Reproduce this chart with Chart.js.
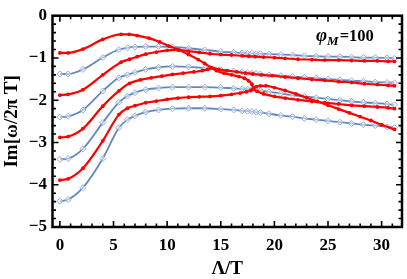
<!DOCTYPE html>
<html>
<head>
<meta charset="utf-8">
<script src="https://cdn.jsdelivr.net/npm/chart.js@4.4.0/dist/chart.umd.min.js"></script>
<style>
  html, body { margin: 0; padding: 0; background: #fff; }
</style>
</head>
<body>
<canvas id="chart" width="407" height="279"></canvas>
<script>
// tick labels
const xTicks = [0, 5, 10, 15, 20, 25, 30];
const yTicks = [0, -1, -2, -3, -4, -5];

// red modes
const red1X = [0,0.77,2.15,4.0,5.7,6.46,7.2,8.3,9.3,10.2,11.1,12.0,12.9,13.5,14.1,14.6,15.3,16.0,16.7,17.2,17.6,17.9,18.05,18.4,19.0,20.0,21.0,22.2,23.5,24.7,26.0,27.2,28.4,29.6,30.6,31.2];
const red1Y = [-0.88,-0.88,-0.79,-0.56,-0.44,-0.44,-0.47,-0.53,-0.62,-0.72,-0.81,-0.92,-1.04,-1.13,-1.23,-1.30,-1.36,-1.40,-1.44,-1.48,-1.54,-1.62,-1.72,-1.79,-1.85,-1.91,-1.95,-1.99,-2.03,-2.06,-2.09,-2.12,-2.14,-2.16,-2.18,-2.20];
const red2X = [0,0.77,2.15,4.0,5.7,6.5,7.2,8.0,9.0,10.0,11.0,12.0,13.0,14.0,15.0,16.0,17.0,17.6,18.2,19.0,20.0,21.0,22.2,23.5,24.7,26.0,27.2,28.4,29.6,30.6,31.2];
const red2Y = [-1.88,-1.86,-1.75,-1.40,-1.10,-1.03,-0.97,-0.91,-0.86,-0.82,-0.81,-0.84,-0.87,-0.90,-0.92,-0.93,-0.95,-0.96,-0.97,-0.98,-0.99,-1.01,-1.03,-1.04,-1.05,-1.05,-1.06,-1.07,-1.07,-1.08,-1.08];
const red3X = [0,0.77,2.15,4.0,5.5,6.5,7.5,8.5,9.5,10.5,11.5,12.5,13.3,13.8,14.1,14.8,15.6,16.5,17.3,18.0,18.8,19.8,21.0,22.2,23.5,24.7,26.0,27.2,28.4,29.6,30.6,31.2];
const red3Y = [-2.88,-2.86,-2.67,-2.14,-1.78,-1.60,-1.52,-1.47,-1.43,-1.39,-1.36,-1.33,-1.30,-1.27,-1.23,-1.27,-1.30,-1.33,-1.36,-1.38,-1.40,-1.42,-1.45,-1.48,-1.51,-1.53,-1.56,-1.58,-1.61,-1.63,-1.65,-1.66];
const red4X = [0,0.77,2.15,4.0,5.5,6.3,7.0,8.0,9.0,10.0,11.0,12.0,13.0,14.0,15.0,16.0,16.8,17.4,17.8,18.05,18.3,18.7,19.2,20.0,21.0,22.0,23.0,24.0,25.0,26.0,27.0,28.0,29.0,30.0,31.2];
const red4Y = [-3.89,-3.86,-3.61,-2.96,-2.34,-2.19,-2.13,-2.06,-2.02,-1.98,-1.95,-1.93,-1.92,-1.91,-1.89,-1.86,-1.83,-1.80,-1.77,-1.72,-1.68,-1.66,-1.66,-1.70,-1.77,-1.85,-1.94,-2.03,-2.12,-2.21,-2.30,-2.39,-2.48,-2.58,-2.69];

// blue modes share one grid
const blueX = [0,0.77,2.15,4.0,5.5,6.3,7.0,8.0,9.2,10.5,12.0,13.5,15.0,16.2,17.0,17.5,17.9,18.3,18.7,19.5,20.6,21.7,22.8,23.9,25.0,26.1,27.2,28.3,29.4,30.5,31.2];
const blue1Y = [-1.38,-1.38,-1.27,-0.99,-0.80,-0.76,-0.74,-0.73,-0.73,-0.74,-0.77,-0.81,-0.85,-0.87,-0.88,-0.89,-0.89,-0.90,-0.90,-0.91,-0.92,-0.93,-0.95,-0.96,-0.97,-0.97,-0.98,-0.99,-0.99,-1.00,-1.01];
const blue2Y = [-2.40,-2.38,-2.23,-1.78,-1.47,-1.40,-1.34,-1.27,-1.22,-1.20,-1.21,-1.24,-1.28,-1.31,-1.33,-1.35,-1.36,-1.37,-1.38,-1.40,-1.42,-1.44,-1.46,-1.48,-1.50,-1.52,-1.54,-1.55,-1.57,-1.58,-1.59];
const blue3Y = [-3.40,-3.38,-3.15,-2.53,-2.05,-1.90,-1.82,-1.75,-1.71,-1.69,-1.69,-1.69,-1.70,-1.72,-1.73,-1.74,-1.75,-1.76,-1.77,-1.80,-1.84,-1.88,-1.91,-1.94,-1.97,-2.00,-2.03,-2.05,-2.07,-2.09,-2.11];
const blue4Y = [-4.39,-4.35,-4.07,-3.38,-2.65,-2.46,-2.37,-2.28,-2.23,-2.20,-2.19,-2.19,-2.21,-2.23,-2.25,-2.26,-2.27,-2.28,-2.29,-2.32,-2.36,-2.39,-2.43,-2.46,-2.49,-2.52,-2.55,-2.58,-2.60,-2.63,-2.65];

const serif = "'Liberation Serif', 'DejaVu Serif', serif";

function pts(xs, ys) {
  return xs.map((x, i) => ({ x: x, y: ys[i] }));
}

function red(xs, ys) {
  return {
    data: pts(xs, ys),
    showLine: true,
    borderColor: '#ff0000',
    borderWidth: 2.2,
    pointRadius: 1.9,
    pointBorderWidth: 0,
    pointBackgroundColor: '#ff0000',
    cubicInterpolationMode: 'monotone'
  };
}

function blue(ys) {
  return {
    data: pts(blueX, ys),
    showLine: true,
    borderColor: '#6287c0',
    borderWidth: 1.8,
    pointStyle: 'rectRot',
    pointRadius: 3,
    pointBorderWidth: 1,
    pointBorderColor: '#90acda',
    pointBackgroundColor: 'rgba(255,255,255,0.5)',
    cubicInterpolationMode: 'monotone'
  };
}

// frame with inward ticks on all four sides, plus the phi_M label
const framePlugin = {
  id: 'frame',
  afterDatasetsDraw(chart) {
    const { ctx, chartArea: a, scales: { x, y } } = chart;
    ctx.save();
    ctx.strokeStyle = '#000';
    ctx.lineWidth = 1.6;
    ctx.beginPath();
    for (let v = 0; v <= 31; v++) {
      const px = x.getPixelForValue(v);
      const len = v % 5 === 0 ? 6 : 3.5;
      ctx.moveTo(px, a.bottom); ctx.lineTo(px, a.bottom - len);
      ctx.moveTo(px, a.top); ctx.lineTo(px, a.top + len);
    }
    for (let k = 0; k <= 25; k++) {
      const py = y.getPixelForValue(-k * 0.2);
      const len = k % 5 === 0 ? 6 : 3.5;
      ctx.moveTo(a.left, py); ctx.lineTo(a.left + len, py);
      ctx.moveTo(a.right, py); ctx.lineTo(a.right - len, py);
    }
    ctx.stroke();
    ctx.lineWidth = 2.5;
    ctx.strokeRect(a.left, a.top, a.right - a.left, a.bottom - a.top);

    ctx.fillStyle = '#000';
    ctx.textBaseline = 'alphabetic';
    let tx = 316;
    ctx.font = 'bold italic 19px ' + serif;
    ctx.fillText('\u03C6', tx, 41);
    tx += ctx.measureText('\u03C6').width;
    ctx.font = 'bold italic 13px ' + serif;
    ctx.fillText('M', tx, 45);
    tx += ctx.measureText('M').width + 1;
    ctx.font = 'bold 16.5px ' + serif;
    ctx.fillText('=100', tx, 41);
    ctx.restore();
  }
};

new Chart(document.getElementById('chart').getContext('2d'), {
  type: 'scatter',
  data: {
    datasets: [
      red(red1X, red1Y), red(red2X, red2Y), red(red3X, red3Y), red(red4X, red4Y),
      blue(blue1Y), blue(blue2Y), blue(blue3Y), blue(blue4Y)
    ]
  },
  options: {
    responsive: false,
    animation: false,
    layout: { padding: { top: 10.5, right: 1.5, left: 0, bottom: 0 } },
    plugins: { legend: { display: false }, tooltip: { enabled: false } },
    scales: {
      x: {
        type: 'linear',
        min: -0.69,
        max: 31.9,
        grid: { display: false, drawTicks: false },
        border: { display: false },
        afterBuildTicks: s => { s.ticks = xTicks.map(v => ({ value: v })); },
        afterFit: s => { s.height = 52; },
        ticks: {
          color: '#000',
          padding: 8,
          maxRotation: 0,
          font: { family: serif, size: 17, weight: 'bold' },
          callback: v => String(v)
        },
        title: {
          display: true,
          text: '\u039B/T',
          color: '#000',
          padding: { top: 0, bottom: 0 },
          font: { family: serif, size: 19, weight: 'bold', lineHeight: 1 }
        }
      },
      y: {
        type: 'linear',
        min: -5,
        max: 0,
        grid: { display: false, drawTicks: false },
        border: { display: false },
        afterBuildTicks: s => { s.ticks = yTicks.map(v => ({ value: v })); },
        afterFit: s => { s.width = 52.5; },
        ticks: {
          color: '#000',
          padding: 5.5,
          font: { family: serif, size: 17, weight: 'bold' },
          callback: v => v < 0 ? '\u2212' + Math.abs(v) : String(v)
        },
        title: {
          display: true,
          text: 'Im[\u03C9/2\u03C0 T]',
          color: '#000',
          padding: { top: 2.5, bottom: 0 },
          font: { family: serif, size: 19, weight: 'bold', lineHeight: 1 }
        }
      }
    }
  },
  plugins: [framePlugin]
});
</script>
</body>
</html>
